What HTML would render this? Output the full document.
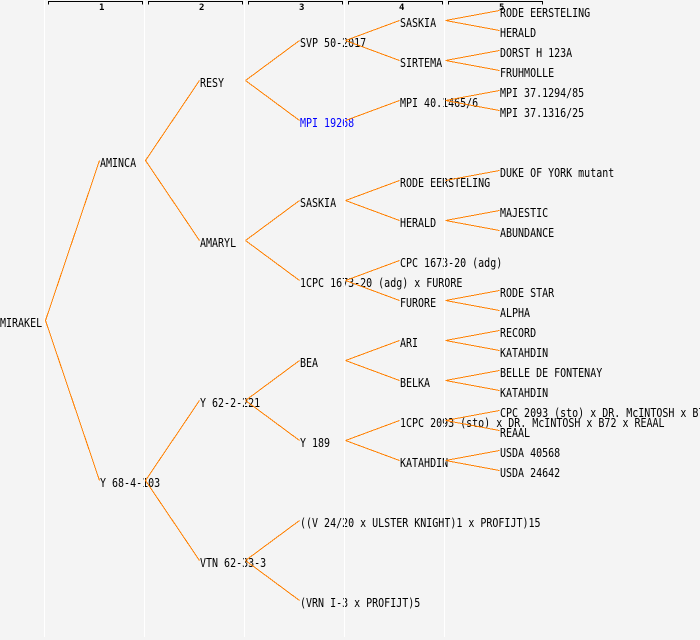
<!DOCTYPE html>
<html><head><meta charset="utf-8"><style>
html,body{margin:0;padding:0;background:#f4f4f4;}
svg{display:block;}
text{font-family:"DejaVu Sans Mono","Liberation Mono",monospace;font-size:10px;fill:#000;}
.h{font-size:9px;font-weight:bold;}
</style></head><body>
<svg width="700" height="640" viewBox="0 0 700 640" xmlns="http://www.w3.org/2000/svg">
<rect x="0" y="0" width="700" height="640" fill="#f4f4f4"/>
<!-- header brackets -->
<g stroke="#000" stroke-width="1" fill="none" shape-rendering="crispEdges">
<path d="M48.5,4.5V1.5H142.5V4.5"/>
<path d="M148.5,4.5V1.5H242.5V4.5"/>
<path d="M248.5,4.5V1.5H342.5V4.5"/>
<path d="M348.5,4.5V1.5H442.5V4.5"/>
<path d="M448.5,4.5V1.5H542.5V4.5"/>
</g>
<text class="h" x="99" y="10">1</text>
<text class="h" x="199" y="10">2</text>
<text class="h" x="299" y="10">3</text>
<text class="h" x="399" y="10">4</text>
<text class="h" x="499" y="10">5</text>
<!-- labels -->
<text transform="translate(0,327) scale(1,1.2)">MIRAKEL</text>
<text transform="translate(100,167) scale(1,1.2)">AMINCA</text>
<text transform="translate(100,487) scale(1,1.2)">Y 68-4-103</text>
<text transform="translate(200,87) scale(1,1.2)">RESY</text>
<text transform="translate(200,247) scale(1,1.2)">AMARYL</text>
<text transform="translate(200,407) scale(1,1.2)">Y 62-2-221</text>
<text transform="translate(200,567) scale(1,1.2)">VTN 62-33-3</text>
<text transform="translate(300,47) scale(1,1.2)">SVP 50-2017</text>
<text transform="translate(300,127) scale(1,1.2)" style="fill:#0000ff">MPI 19268</text>
<text transform="translate(300,207) scale(1,1.2)">SASKIA</text>
<text transform="translate(300,287) scale(1,1.2)">1CPC 1673-20 (adg) x FURORE</text>
<text transform="translate(300,367) scale(1,1.2)">BEA</text>
<text transform="translate(300,447) scale(1,1.2)">Y 189</text>
<text transform="translate(300,527) scale(1,1.2)">((V 24/20 x ULSTER KNIGHT)1 x PROFIJT)15</text>
<text transform="translate(300,607) scale(1,1.2)">(VRN I-3 x PROFIJT)5</text>
<text transform="translate(400,27) scale(1,1.2)">SASKIA</text>
<text transform="translate(400,67) scale(1,1.2)">SIRTEMA</text>
<text transform="translate(400,107) scale(1,1.2)">MPI 40.1465/6</text>
<text transform="translate(400,187) scale(1,1.2)">RODE EERSTELING</text>
<text transform="translate(400,227) scale(1,1.2)">HERALD</text>
<text transform="translate(400,267) scale(1,1.2)">CPC 1673-20 (adg)</text>
<text transform="translate(400,307) scale(1,1.2)">FURORE</text>
<text transform="translate(400,347) scale(1,1.2)">ARI</text>
<text transform="translate(400,387) scale(1,1.2)">BELKA</text>
<text transform="translate(400,427) scale(1,1.2)">1CPC 2093 (sto) x DR. McINTOSH x B72 x REAAL</text>
<text transform="translate(400,467) scale(1,1.2)">KATAHDIN</text>
<text transform="translate(500,17) scale(1,1.2)">RODE EERSTELING</text>
<text transform="translate(500,37) scale(1,1.2)">HERALD</text>
<text transform="translate(500,57) scale(1,1.2)">DORST H 123A</text>
<text transform="translate(500,77) scale(1,1.2)">FRUHMOLLE</text>
<text transform="translate(500,97) scale(1,1.2)">MPI 37.1294/85</text>
<text transform="translate(500,117) scale(1,1.2)">MPI 37.1316/25</text>
<text transform="translate(500,177) scale(1,1.2)">DUKE OF YORK mutant</text>
<text transform="translate(500,217) scale(1,1.2)">MAJESTIC</text>
<text transform="translate(500,237) scale(1,1.2)">ABUNDANCE</text>
<text transform="translate(500,297) scale(1,1.2)">RODE STAR</text>
<text transform="translate(500,317) scale(1,1.2)">ALPHA</text>
<text transform="translate(500,337) scale(1,1.2)">RECORD</text>
<text transform="translate(500,357) scale(1,1.2)">KATAHDIN</text>
<text transform="translate(500,377) scale(1,1.2)">BELLE DE FONTENAY</text>
<text transform="translate(500,397) scale(1,1.2)">KATAHDIN</text>
<text transform="translate(500,417) scale(1,1.2)">CPC 2093 (sto) x DR. McINTOSH x B72 x REAAL</text>
<text transform="translate(500,437) scale(1,1.2)">REAAL</text>
<text transform="translate(500,457) scale(1,1.2)">USDA 40568</text>
<text transform="translate(500,477) scale(1,1.2)">USDA 24642</text>
<!-- white column lines -->
<g fill="#ffffff" shape-rendering="crispEdges">
<rect x="44" y="0" width="1" height="637"/>
<rect x="144" y="0" width="1" height="637"/>
<rect x="244" y="0" width="1" height="637"/>
<rect x="344" y="0" width="1" height="637"/>
<rect x="444" y="0" width="1" height="637"/>
</g>
<!-- connectors -->
<g stroke="#ff8000" stroke-width="1" fill="none" shape-rendering="crispEdges">
<path d="M45.5,320.5L99.5,160.5M45.5,320.5L99.5,480.5"/>
<path d="M145.5,160.5L199.5,80.5M145.5,160.5L199.5,240.5"/>
<path d="M145.5,480.5L199.5,400.5M145.5,480.5L199.5,560.5"/>
<path d="M245.5,80.5L299.5,40.5M245.5,80.5L299.5,120.5"/>
<path d="M245.5,240.5L299.5,200.5M245.5,240.5L299.5,280.5"/>
<path d="M245.5,400.5L299.5,360.5M245.5,400.5L299.5,440.5"/>
<path d="M245.5,560.5L299.5,520.5M245.5,560.5L299.5,600.5"/>
<path d="M345.5,40.5L399.5,20.5M345.5,40.5L399.5,60.5"/>
<path d="M345.5,120.5L399.5,100.5"/>
<path d="M345.5,200.5L399.5,180.5M345.5,200.5L399.5,220.5"/>
<path d="M345.5,280.5L399.5,260.5M345.5,280.5L399.5,300.5"/>
<path d="M345.5,360.5L399.5,340.5M345.5,360.5L399.5,380.5"/>
<path d="M345.5,440.5L399.5,420.5M345.5,440.5L399.5,460.5"/>
<path d="M445.5,20.5L499.5,10.5M445.5,20.5L499.5,30.5"/>
<path d="M445.5,60.5L499.5,50.5M445.5,60.5L499.5,70.5"/>
<path d="M445.5,100.5L499.5,90.5M445.5,100.5L499.5,110.5"/>
<path d="M445.5,180.5L499.5,170.5"/>
<path d="M445.5,220.5L499.5,210.5M445.5,220.5L499.5,230.5"/>
<path d="M445.5,300.5L499.5,290.5M445.5,300.5L499.5,310.5"/>
<path d="M445.5,340.5L499.5,330.5M445.5,340.5L499.5,350.5"/>
<path d="M445.5,380.5L499.5,370.5M445.5,380.5L499.5,390.5"/>
<path d="M445.5,420.5L499.5,410.5M445.5,420.5L499.5,430.5"/>
<path d="M445.5,460.5L499.5,450.5M445.5,460.5L499.5,470.5"/>
</g>
</svg>
</body></html>
